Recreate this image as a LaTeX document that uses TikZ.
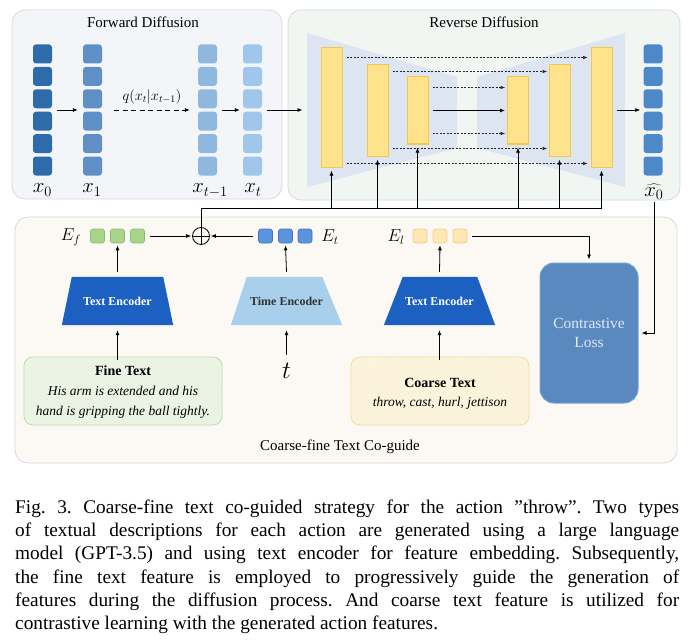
\documentclass[tikz,border=0pt]{standalone}
\usepackage{fontspec}
\setmainfont{Liberation Serif}
\usetikzlibrary{arrows.meta,patterns.meta}
\definecolor{fwdfill}{HTML}{F3F5F9}
\definecolor{revfill}{HTML}{F2F6F3}
\definecolor{cgfill}{HTML}{FCF9F4}
\definecolor{panelborder}{HTML}{D6D9DE}
\definecolor{cxa}{HTML}{2E6BAA}
\definecolor{cxb}{HTML}{5E90C6}
\definecolor{cxc}{HTML}{8FB8DF}
\definecolor{cxd}{HTML}{A0C6EC}
\definecolor{cxh}{HTML}{4D88C9}
\definecolor{trap}{HTML}{DCE5F1}
\definecolor{barfill}{HTML}{FFE38C}
\definecolor{barline}{HTML}{F4C94A}
\definecolor{grfill}{HTML}{A8D48C}
\definecolor{grline}{HTML}{86C06A}
\definecolor{blfill}{HTML}{5B93DC}
\definecolor{blline}{HTML}{3F74C0}
\definecolor{yefill}{HTML}{FDE8B5}
\definecolor{yeline}{HTML}{F3D17E}
\definecolor{encdark}{HTML}{1C60C2}
\definecolor{enclight}{HTML}{A8CFEC}
\definecolor{finefill}{HTML}{EEF6E8}
\definecolor{fineline}{HTML}{BCDCA8}
\definecolor{finehatch}{HTML}{DDEAD3}
\definecolor{coarsefill}{HTML}{FDF7E2}
\definecolor{coarseline}{HTML}{F4DD92}
\definecolor{coarsehatch}{HTML}{F2E6C0}
\definecolor{lossfill}{HTML}{5A89BF}
\definecolor{lossline}{HTML}{6FA3D6}
\definecolor{losstext}{HTML}{E0E9F4}
\begin{document}
\begin{tikzpicture}[x=1pt,y=-1pt,
  panel/.style={draw=panelborder, line width=0.8pt, rounded corners=13pt, inner sep=0pt},
  ptitle/.style={font=\fontsize{15}{18}\selectfont, inner sep=0pt},
  sq/.style={rounded corners=3pt, minimum size=19pt, inner sep=0pt},
  colbox/.style={minimum width=19pt, minimum height=131pt, inner sep=0pt},
  xlbl/.style={font=\fontsize{20}{22}\selectfont, inner sep=0pt, anchor=base},
  bar/.style={fill=barfill, draw=barline, line width=1pt, minimum width=21pt, inner sep=0pt},
  arr/.style={-{Latex[length=5pt,width=4pt]}, line width=0.8pt},
  darr/.style={-{Latex[length=4.5pt,width=3.5pt]}, line width=0.5pt, dash pattern=on 2pt off 1.5pt, draw=black!85},
  dlong/.style={-{Latex[length=5pt,width=4pt]}, line width=0.8pt, dash pattern=on 5pt off 3.5pt},
  line/.style={line width=0.8pt},
  esq/.style={rounded corners=2.5pt, minimum size=14pt, inner sep=0pt, line width=0.6pt},
  elbl/.style={font=\fontsize{17.5}{19}\selectfont, inner sep=0pt},
  encbox/.style={minimum width=111pt, minimum height=48pt, inner sep=0pt},
  enctext/.style={font=\fontsize{12}{14}\selectfont\bfseries, inner sep=0pt},
  txtbox/.style={rounded corners=9pt, line width=0.8pt, minimum height=68pt, align=center, inner sep=0pt}
]
\useasboundingbox (0,0) rectangle (689,642);
\fill[white] (0,0) rectangle (689,642);

% ---------- panels ----------
\node[panel, fill=fwdfill, minimum width=270pt, minimum height=189pt] (fwd) at (147,104.5) {};
\node[panel, fill=revfill, minimum width=392pt, minimum height=190pt] (rev) at (484,105) {};
\node[panel, fill=cgfill, minimum width=662pt, minimum height=246pt] (cg) at (346,340) {};
\node[ptitle] (fwdt) at (143,22) {Forward Diffusion};
\node[ptitle] (revt) at (484,22) {Reverse Diffusion};
\node[ptitle] (cgt) at (340,447) {Coarse-fine Text Co-guide};

% ---------- forward columns ----------
\foreach \c/\x/\col in {0/42.5/cxa, 1/92.5/cxb, 2/207.5/cxc, 3/252.5/cxd, 4/653/cxh}{
  \foreach \r in {0,...,5}{
    \node[sq, fill=\col] (s\c\r) at (\x,{54+22.4*\r}) {};
  }
  \node[colbox] (col\c) at (\x,110) {};
}
\node[xlbl] (l0) at (42.5,193) {$x_0$};
\node[xlbl] (l1) at (92,193) {$x_1$};
\node[xlbl] (l2) at (210,193) {$x_{t-1}$};
\node[xlbl] (l3) at (253,193) {$x_t$};
\node[xlbl] (lh) at (654,196) {$\widehat{x_0}$};

\draw[arr] ([xshift=5pt]col0.east) -- ([xshift=-5pt]col1.west);
\draw[dlong] ([xshift=12pt]col1.east) -- node[above=6pt, inner sep=0pt, font=\fontsize{14.5}{16}\selectfont] (qlbl) {$q(x_t|x_{t-1})$} ([xshift=-8pt]col2.west);
\draw[arr] ([xshift=5pt]col2.east) -- ([xshift=-3pt]col3.west);

% ---------- reverse diffusion ----------
\fill[trap] (307,33) -- (457,77) -- (457,148) -- (307,187) -- cycle;
\fill[trap] (477,77) -- (625,33) -- (625,187) -- (477,148) -- cycle;

\node[bar, minimum height=119pt] (bar1) at (331.5,107.5) {};
\node[bar, minimum height=91pt]  (bar2) at (377.5,110.5) {};
\node[bar, minimum height=67pt]  (bar3) at (417.5,110.5) {};
\node[bar, minimum height=67pt]  (bar4) at (518,110.5) {};
\node[bar, minimum height=91pt]  (bar5) at (559.5,110.5) {};
\node[bar, minimum height=119pt] (bar6) at (601.5,107.5) {};

\draw[arr] ([xshift=5pt]col3.east) -- ([xshift=-18pt]bar1.west |- col3.east);
\draw[darr] ([xshift=4pt,yshift=-10pt]bar1.north east) -- ([xshift=-3pt,yshift=-10pt]bar6.north west);
\draw[darr] ([xshift=4pt,yshift=4pt]bar1.south east) -- ([xshift=-3pt,yshift=4pt]bar6.south west);
\draw[darr] ([xshift=4pt,yshift=-7pt]bar2.north east) -- ([xshift=-1.5pt,yshift=-7pt]bar5.north west);
\draw[darr] ([xshift=4pt,yshift=8pt]bar2.south east) -- ([xshift=-1.5pt,yshift=8pt]bar5.south west);
\draw[darr] ([xshift=4pt,yshift=-11pt]bar3.north east) -- ([xshift=-2pt,yshift=-11pt]bar4.north west);
\draw[darr] ([xshift=4pt,yshift=11pt]bar3.south east) -- ([xshift=-2pt,yshift=11pt]bar4.south west);
\draw[arr] ([xshift=4pt]bar3.east) -- ([xshift=-2pt]bar4.west);
\draw[arr] ([xshift=4pt]bar6.east |- col4.west) -- ([xshift=-3pt]col4.west);

% ---------- co-guide ----------
\node[circle, draw, line width=0.8pt, minimum size=17pt, inner sep=0pt,
  path picture={\draw[line width=0.8pt] (path picture bounding box.north) -- (path picture bounding box.south)
  (path picture bounding box.west) -- (path picture bounding box.east);}] (oplus) at (201,236) {};

\coordinate (sp) at (201,208);
\draw[line] (oplus.north) -- (sp) -- (sp -| bar6.south);
\foreach \b in {bar1,bar2,bar3,bar4,bar5,bar6}{
  \draw[arr] (sp -| \b.south) -- ([yshift=-3pt]\b.south);
}

% embeddings
\foreach \i/\x in {1/97.5,2/117.5,3/137.5}{\node[esq, fill=grfill, draw=grline] (g\i) at (\x,236) {};}
\foreach \i/\x in {1/265.5,2/285.5,3/305}{\node[esq, fill=blfill, draw=blline] (b\i) at (\x,236) {};}
\foreach \i/\x in {1/420,2/440,3/460}{\node[esq, fill=yefill, draw=yeline] (y\i) at (\x,236) {};}
\node[elbl] (ef) at (71,237) {$E_f$};
\node[elbl] (et) at (330,237) {$E_t$};
\node[elbl] (el) at (396,237) {$E_l$};

\draw[arr] ([xshift=5pt]g3.east) -- ([xshift=-1pt]oplus.west);
\draw[arr] ([xshift=-5pt]b1.west) -- ([xshift=1pt]oplus.east);

% encoders
\node[encbox] (enc1) at (117.5,301) {};
\fill[encdark] (enc1.south west) -- (enc1.south east) -- ([xshift=-10pt]enc1.north east) -- ([xshift=10pt]enc1.north west) -- cycle;
\node[enctext, text=white] (enc1t) at (enc1) {Text Encoder};
\node[encbox] (enc2) at (286.5,301) {};
\fill[enclight] (enc2.south west) -- (enc2.south east) -- ([xshift=-20pt]enc2.north east) -- ([xshift=16pt]enc2.north west) -- cycle;
\node[enctext, text=black!80] (enc2t) at (enc2) {Time Encoder};
\node[encbox] (enc3) at (439.5,301) {};
\fill[encdark] (enc3.south west) -- (enc3.south east) -- ([xshift=-18pt]enc3.north east) -- ([xshift=19pt]enc3.north west) -- cycle;
\node[enctext, text=white] (enc3t) at (enc3) {Text Encoder};

% text boxes
\node[txtbox, fill=finefill, draw=fineline, minimum width=198pt,
  postaction={pattern={Lines[angle=-45,distance=2.6pt,line width=0.35pt]}, pattern color=finehatch}] (fine) at (123,391) {};
\node[inner sep=0pt, align=center, font=\fontsize{13.5}{20}\selectfont] (finet) at (123,392)
  {\textbf{\fontsize{14}{20}\selectfont Fine Text}\\\textit{His arm is extended and his}\\\textit{hand is gripping the ball tightly.}};
\node[txtbox, fill=coarsefill, draw=coarseline, minimum width=178pt,
  postaction={pattern={Lines[angle=-45,distance=2.6pt,line width=0.35pt]}, pattern color=coarsehatch}] (coarse) at (440,391) {};
\node[inner sep=0pt, align=center, font=\fontsize{13.5}{19.5}\selectfont] (coarset) at (440,394)
  {\textbf{\fontsize{14}{19.5}\selectfont Coarse Text}\\\textit{throw, cast, hurl, jettison}};

\node[inner sep=0pt, font=\fontsize{23}{25}\selectfont] (tt) at (286.5,371) {$t$};

\draw[arr] ([yshift=-3pt]fine.north -| enc1.south) -- ([yshift=-5pt]enc1.south);
\draw[arr] ([yshift=5pt]enc1.north) -- ([yshift=-2pt]g2.south);
\draw[arr] ([yshift=8pt]tt.north) -- ([yshift=-5pt]enc2.south);
\draw[arr] ([yshift=5pt]enc2.north) -- ([yshift=-2pt]b2.south);
\draw[arr] ([yshift=-3pt]coarse.north -| enc3.south) -- ([yshift=-5pt]enc3.south);
\draw[arr] ([yshift=5pt]enc3.north) -- ([yshift=-2pt]y2.south);

% contrastive loss
\node[fill=lossfill, draw=lossline, line width=1pt, rounded corners=14pt, minimum width=98pt, minimum height=140pt,
  inner sep=0pt, align=center, text=losstext, font=\fontsize{15.5}{19}\selectfont] (loss) at (589,333) {Contrastive\\Loss};
\draw[arr] ([yshift=5pt]y3.east) ++(5pt,-5pt) -| ([yshift=3pt]loss.north);
\draw[arr] ([yshift=-3pt]lh.south) |- ([xshift=3pt]loss.east);

% ---------- caption ----------
\node[anchor=north west, inner sep=0pt, text width=664pt, align=justify,
  font=\fontsize{19.3}{23.3}\selectfont] (cap) at (15,499.5)
{\frenchspacing\hyphenpenalty=10000\tolerance=10000
Fig.~3.\hspace{0.6em}Coarse-fine text co-guided strategy for the action ''throw''. Two types\linebreak
of textual descriptions for each action are generated using a large language\linebreak
model (GPT-3.5) and using text encoder for feature embedding. Subsequently,\linebreak
the fine text feature is employed to progressively guide the generation of\linebreak
features during the diffusion process. And coarse text feature is utilized for\linebreak
contrastive learning with the generated action features.};
\end{tikzpicture}
\end{document}
